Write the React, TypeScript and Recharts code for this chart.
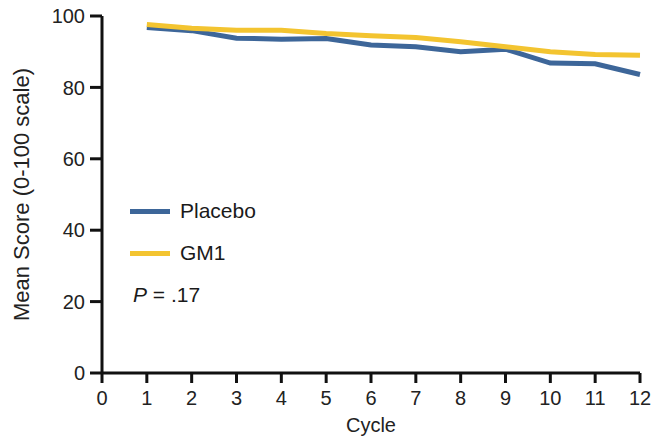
import React from 'react';
import { LineChart, Line, XAxis, YAxis } from 'recharts';

const cycles = [1, 2, 3, 4, 5, 6, 7, 8, 9, 10, 11, 12];
const placebo = [96.8, 95.9, 93.8, 93.5, 93.7, 91.9, 91.4, 90.0, 90.7, 86.8, 86.6, 83.6];
const gm1 = [97.6, 96.6, 96.0, 96.0, 95.1, 94.5, 94.0, 92.8, 91.4, 90.0, 89.2, 89.0];
const xTicks = [0, 1, 2, 3, 4, 5, 6, 7, 8, 9, 10, 11, 12];
const yTicks = [0, 20, 40, 60, 80, 100];
const pValue = '.17';

const BLUE = '#3d6699';
const YELLOW = '#f3c430';
const FONT = '"Liberation Sans", Arial, sans-serif';

const data = cycles.map((c, i) => ({ cycle: c, placebo: placebo[i], gm1: gm1[i] }));

const LegendBox = () => (
  <div style={{ position: 'absolute', left: 130, top: 190, fontFamily: FONT, fontSize: 21, color: '#1a1a1a' }}>
    {[
      { name: 'Placebo', color: BLUE },
      { name: 'GM1', color: YELLOW },
    ].map(item => (
      <div key={item.name} style={{ display: 'flex', alignItems: 'center', height: 42 }}>
        <span style={{ width: 40, height: 5, background: item.color, marginRight: 10 }} />
        <span>{item.name}</span>
      </div>
    ))}
    <div style={{ marginTop: 9, marginLeft: 3 }}>
      <i>P</i> = {pValue}
    </div>
  </div>
);

export default function App() {
  return (
    <div style={{ position: 'fixed', left: 0, top: 0, width: 652, height: 439, background: '#fff' }}>
      <LineChart width={652} height={439} data={data} margin={{ top: 16, right: 12, left: 0, bottom: 0 }}>
        <XAxis
          dataKey="cycle"
          type="number"
          domain={[0, 12]}
          ticks={xTicks}
          interval={0}
          height={66}
          stroke="#111"
          strokeWidth={3}
          tickSize={10}
          tickMargin={8}
          tick={{ fill: '#222', fontSize: 20, fontFamily: FONT }}
          label={{ value: 'Cycle', position: 'center', dy: 19, style: { fill: '#222', fontSize: 20, fontFamily: FONT } }}
        />
        <YAxis
          type="number"
          domain={[0, 100]}
          ticks={yTicks}
          interval={0}
          width={102}
          stroke="#111"
          strokeWidth={3}
          tickSize={12}
          tickMargin={5}
          tick={{ fill: '#222', fontSize: 20, fontFamily: FONT }}
          label={{
            value: 'Mean Score (0-100 scale)',
            angle: -90,
            position: 'center',
            dx: -30,
            style: { fill: '#222', fontSize: 22, fontFamily: FONT, textAnchor: 'middle' },
          }}
        />
        <Line dataKey="placebo" stroke={BLUE} strokeWidth={5} dot={false} isAnimationActive={false} />
        <Line dataKey="gm1" stroke={YELLOW} strokeWidth={5} dot={false} isAnimationActive={false} />
      </LineChart>
      <LegendBox />
    </div>
  );
}
